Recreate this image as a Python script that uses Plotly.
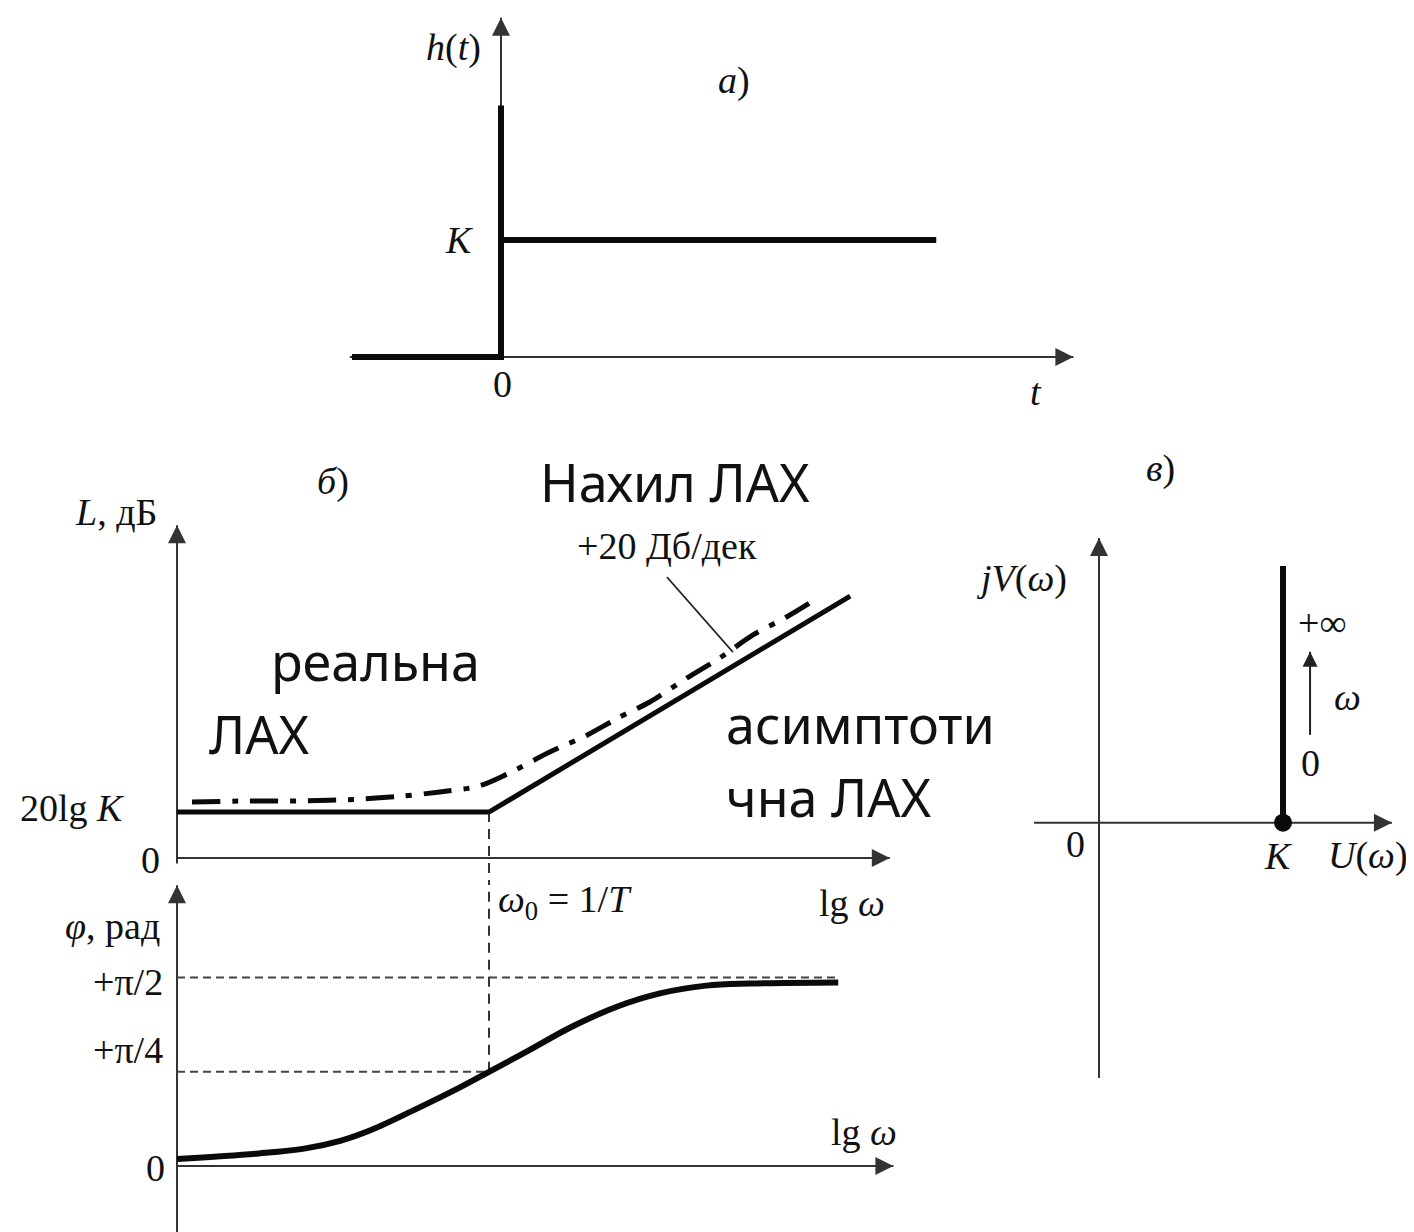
import plotly.graph_objects as go

W, H = 1414, 1232
OFF = 8  # the page body adds an 8 px margin; the figure is drawn inside it

# ---------------- data ----------------
# (а) step response h(t)
t_resp = [-1.38, 0.0, 0.0, 0.0, 4.03]
h_resp = [0.0, 0.0, 2.15, 1.0, 1.0]
t_axis = [-1.40, 5.30]
h_axis = [0.0, 2.90]

# (б) LAX (L in dB vs lg ω, ω0 at 0)
lgw_asym = [-2.6, 0.0, 3.01]
L_asym = [12.8, 12.8, 73.0]
lgw_real = [-2.475, -2.03, -1.575, -1.075, -0.74, -0.41, -0.09, 0.133, 0.51,
            0.82, 1.09, 1.34, 1.65, 1.925, 2.2, 2.48, 2.74]
L_real = [15.6, 15.9, 15.9, 16.4, 17.2, 18.4, 20.0, 23.1, 29.6,
          34.3, 39.3, 43.5, 50.2, 55.8, 62.2, 67.2, 72.5]
L_xaxis = [-2.6, 3.34]
L_yaxis = [-1.5, 92.8]
slope_leader_x = [1.483, 2.033]
slope_leader_L = [78.3, 57.4]

# (б) ЛФХ (phase in rad)
lgw_phase = [-2.6, -1.917, -1.54, -1.24, -0.983, -0.617, -0.242, 0.0, 0.317,
             0.69, 1.06, 1.433, 1.81, 2.175, 2.91]
phi = [0.058, 0.105, 0.145, 0.21, 0.30, 0.47, 0.655, 0.785, 0.955,
       1.16, 1.325, 1.44, 1.503, 1.521, 1.53]
phi_xaxis = [-2.6, 3.37]
phi_yaxis = [-0.56, 2.34]
pi2 = 1.5708
pi4 = 0.7854
pi2_line_x = [-2.6, 2.91]
pi4_line_x = [-2.6, 0.0]

# (в) hodograph
U_axis = [-0.353, 1.592]
V_axis = [-1.388, 1.547]
U_hodo = [1.0, 1.0]
V_hodo = [0.0, 1.395]
w_arrow_U = [1.147, 1.147]
w_arrow_V = [0.477, 0.929]

# ---------------- pixel placement of each panel (origin px, px per unit) ----------------
FW, FH = W - OFF, H - OFF

def xr(ox, sx):
    ox -= OFF
    return [(0 - ox) / sx, (FW - ox) / sx]

def yr(oy, sy):
    oy -= OFF
    return [(oy - FH) / sy, oy / sy]

AX = dict(visible=False, fixedrange=True, domain=[0, 1])

fig = go.Figure()
AXC = "#333333"
BLK = "#0a0a0a"

def line(x, y, xa, ya, width, color=BLK, dash=None, shape="linear", smoothing=0.8):
    fig.add_trace(go.Scatter(x=x, y=y, xaxis=xa, yaxis=ya, mode="lines",
                             line=dict(width=width, color=color, dash=dash, shape=shape,
                                       smoothing=smoothing),
                             hoverinfo="skip", showlegend=False))

def head(x, y, xa, ya, sym, size=18, color=AXC):
    fig.add_trace(go.Scatter(x=[x], y=[y], xaxis=xa, yaxis=ya, mode="markers",
                             marker=dict(symbol=sym, size=size, color=color,
                                         line=dict(width=0)),
                             hoverinfo="skip", showlegend=False))

# panel a
line(t_axis, [0, 0], "x", "y", 2, AXC)
head(t_axis[1], 0, "x", "y", "arrow-right")
line([0, 0], h_axis, "x", "y", 2, AXC)
head(0, h_axis[1], "x", "y", "arrow-up")
line(t_resp, h_resp, "x", "y", 6)

# panel б amplitude
line(L_xaxis, [0, 0], "x2", "y2", 2, AXC)
head(L_xaxis[1], 0, "x2", "y2", "arrow-right")
line([L_xaxis[0], L_xaxis[0]], L_yaxis, "x2", "y2", 2, AXC)
head(L_xaxis[0], L_yaxis[1], "x2", "y2", "arrow-up")
line([0, 0], [L_asym[1], L_yaxis[0] - 6], "x2", "y2", 2, AXC, dash="10px,7px")
line(lgw_real, L_real, "x2", "y2", 5, BLK, dash="28px,12px,6px,12px", shape="spline")
line(lgw_asym, L_asym, "x2", "y2", 5)
line(slope_leader_x, slope_leader_L, "x2", "y2", 1.6, "#222222")

# panel б phase
line(phi_xaxis, [0, 0], "x3", "y3", 2, AXC)
head(phi_xaxis[1], 0, "x3", "y3", "arrow-right")
line([phi_xaxis[0], phi_xaxis[0]], phi_yaxis, "x3", "y3", 2, AXC)
head(phi_xaxis[0], phi_yaxis[1], "x3", "y3", "arrow-up")
line(pi2_line_x, [pi2, pi2], "x3", "y3", 2, "#444444", dash="8px,5px")
line(pi4_line_x, [pi4, pi4], "x3", "y3", 2, "#444444", dash="8px,5px")
line([0, 0], [pi4, phi_yaxis[1]], "x3", "y3", 2, AXC, dash="10px,7px")
line(lgw_phase, phi, "x3", "y3", 6, BLK, shape="spline", smoothing=1.0)

# panel в
line(U_axis, [0, 0], "x4", "y4", 2, AXC)
head(U_axis[1], 0, "x4", "y4", "arrow-right")
line([0, 0], V_axis, "x4", "y4", 2, AXC)
head(0, V_axis[1], "x4", "y4", "arrow-up")
line(U_hodo, V_hodo, "x4", "y4", 6)
fig.add_trace(go.Scatter(x=[U_hodo[0]], y=[V_hodo[0]], xaxis="x4", yaxis="y4", mode="markers",
                         marker=dict(size=18, color=BLK), hoverinfo="skip", showlegend=False))
line(w_arrow_U, w_arrow_V, "x4", "y4", 2, "#222222")
head(w_arrow_U[1], w_arrow_V[1], "x4", "y4", "arrow-up", size=15, color="#222222")

fig.update_layout(
    width=FW, height=FH, autosize=False,
    margin=dict(l=0, r=0, t=0, b=0),
    paper_bgcolor="white", plot_bgcolor="rgba(0,0,0,0)",
    showlegend=False,
    xaxis=dict(AX, range=xr(501, 108), anchor="y"),
    yaxis=dict(AX, range=yr(357, 117), anchor="x"),
    xaxis2=dict(AX, range=xr(489, 120), anchor="y2"),
    yaxis2=dict(AX, range=yr(858, 3.587), anchor="x2"),
    xaxis3=dict(AX, range=xr(489, 120), anchor="y3"),
    yaxis3=dict(AX, range=yr(1166, 120), anchor="x3"),
    xaxis4=dict(AX, range=xr(1099, 184), anchor="y4"),
    yaxis4=dict(AX, range=yr(822.7, 184), anchor="x4"),
)

SERIF = "Liberation Serif"
SANS = "Noto Sans"

def lab(px, py, text, size=38, family=SERIF, xanchor="center", bg=None, align="center",
        pad=0):
    fig.add_annotation(x=(px - OFF) / FW, y=1 - (py - OFF) / FH, xref="paper", yref="paper",
                       text=text, showarrow=False, xanchor=xanchor, yanchor="middle",
                       align=align,
                       font=dict(family=family, size=size, color="#111111"),
                       bgcolor=bg, borderpad=pad)

# panel a labels
lab(453, 47, "<i>h</i>(<i>t</i>)")
lab(734, 80, "<i>a</i>)")
lab(459, 240, "<i>K</i>")
lab(502, 384, "0")
lab(1036, 392, "<i>t</i>")

# panel б labels
lab(333, 482, "<i>б</i>)")
lab(116, 512, "<i>L</i>, дБ")
lab(72, 808, "20lg <i>K</i>")
lab(150, 860, "0")
lab(667, 546, "+20 Дб/дек")
lab(497, 902, "<i>ω</i><sub>0</sub> = 1/<i>T</i>", xanchor="left")
lab(852, 903, "lg <i>ω</i>")
lab(112, 926, "<i>φ</i>, рад")
lab(128, 982, "+π/2")
lab(128, 1050, "+π/4")
lab(155, 1168, "0")
lab(864, 1132, "lg <i>ω</i>")

# panel в labels
lab(1160, 468, "<i>в</i>)")
lab(1022, 578, "<i>jV</i>(<i>ω</i>)")
lab(1322, 623, "+∞")
lab(1347, 697, "<i>ω</i>")
lab(1310, 763, "0")
lab(1075, 844, "0")
lab(1278, 856, "<i>K</i>")
lab(1368, 855, "<i>U</i>(<i>ω</i>)")

# overlaid Ukrainian labels
lab(675, 482, "Нахил ЛАХ", size=52, family=SANS)
lab(375, 660, "реальна", size=52, family=SANS)
lab(259, 733, "ЛАХ", size=52, family=SANS)
lab(721, 723, "асимптоти", size=52, family=SANS, xanchor="left", bg="white", pad=4)
lab(721, 796, "чна ЛАХ", size=52, family=SANS, xanchor="left", bg="white", pad=4)

fig.write_html("out.html")
